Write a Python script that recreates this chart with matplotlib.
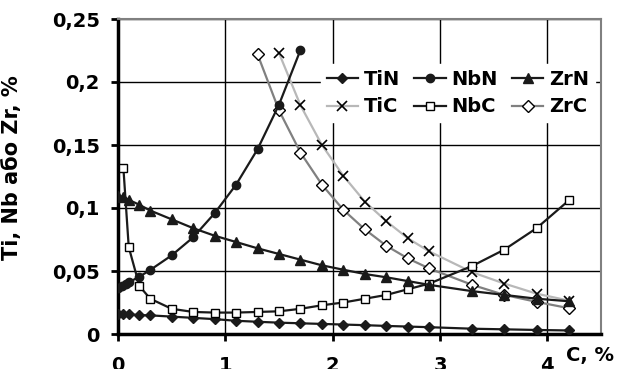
import matplotlib
matplotlib.use("Agg")
import matplotlib.pyplot as plt

# carbon content, %
c_all = [0, 0.05, 0.1, 0.2, 0.3, 0.5, 0.7, 0.9, 1.1, 1.3, 1.5, 1.7, 1.9, 2.1,
         2.3, 2.5, 2.7, 2.9, 3.3, 3.6, 3.9, 4.2]
tin = [0.016, 0.0157, 0.0155, 0.015, 0.0148, 0.0138, 0.0128, 0.0118, 0.0105,
       0.0097, 0.009, 0.0085, 0.008, 0.0075, 0.007, 0.0064, 0.0059, 0.0054,
       0.0042, 0.0037, 0.0032, 0.0028]
zrn = [0.1095, 0.109, 0.1065, 0.1025, 0.098, 0.091, 0.084, 0.078, 0.073,
       0.068, 0.0635, 0.059, 0.0545, 0.051, 0.0476, 0.045, 0.042, 0.039,
       0.034, 0.031, 0.028, 0.026]

c_nbn = [0, 0.035, 0.07, 0.1, 0.2, 0.3, 0.5, 0.7, 0.9, 1.1, 1.3, 1.5, 1.7]
nbn = [0.0365, 0.038, 0.040, 0.041, 0.0455, 0.0508, 0.0624, 0.0767, 0.0958,
       0.1185, 0.1466, 0.182, 0.2254]

c_nbc = c_all[1:]
nbc = [0.132, 0.069, 0.038, 0.028, 0.020, 0.0175, 0.017, 0.017, 0.0175,
       0.018, 0.020, 0.0228, 0.025, 0.028, 0.031, 0.0355, 0.040, 0.054,
       0.067, 0.084, 0.106]

c_tic = [1.5, 1.7, 1.9, 2.1, 2.3, 2.5, 2.7, 2.9, 3.3, 3.6, 3.9, 4.2]
tic = [0.223, 0.1815, 0.15, 0.1255, 0.105, 0.0895, 0.076, 0.0655, 0.049,
       0.040, 0.032, 0.0265]

c_zrc = [1.3, 1.5, 1.7, 1.9, 2.1, 2.3, 2.5, 2.7, 2.9, 3.3, 3.6, 3.9, 4.2]
zrc = [0.222, 0.1775, 0.144, 0.1185, 0.0985, 0.083, 0.070, 0.060, 0.052,
       0.039, 0.031, 0.0255, 0.0205]

plt.rcParams['font.family'] = 'DejaVu Sans'
plt.rcParams['font.weight'] = 'bold'

fig = plt.figure(figsize=(6.26, 3.69), dpi=100)
ax = fig.add_axes([118/626, 35/369, (601-118)/626, (334-19)/369])

lw = 1.6
ax.plot(c_all, tin, '-D', color='#1a1a1a', lw=lw, ms=5.5, label='TiN', zorder=4)
ax.plot(c_tic, tic, '-x', color='#b8b8b8', mec='black', mew=1.2, lw=lw, ms=7,
        label='TiC', zorder=3)
ax.plot(c_nbn, nbn, '-o', color='#1a1a1a', lw=lw, ms=6, label='NbN', zorder=4)
ax.plot(c_nbc, nbc, '-s', color='#1a1a1a', mfc='white', mec='black', mew=1,
        lw=lw, ms=5.5, label='NbC', zorder=4)
ax.plot(c_all, zrn, '-^', color='#1a1a1a', lw=lw, ms=6.5, label='ZrN', zorder=4)
ax.plot(c_zrc, zrc, '-D', color='#808080', mfc='white', mec='black', mew=1,
        lw=lw, ms=6, label='ZrC', zorder=3)

ax.set_xlim(0, 4.5)
ax.set_ylim(0, 0.25)
ax.set_xticks([0, 1, 2, 3, 4])
ax.set_xticklabels(['0', '1', '2', '3', '4'])
ax.set_yticks([0, 0.05, 0.1, 0.15, 0.2, 0.25])
ax.set_yticklabels(['0', '0,05', '0,1', '0,15', '0,2', '0,25'])
ax.grid(True, color='black', lw=1)
ax.set_axisbelow(True)

for s in ['top', 'right']:
    ax.spines[s].set_color('#808080')
    ax.spines[s].set_linewidth(1.5)
for s in ['left', 'bottom']:
    ax.spines[s].set_color('black')
    ax.spines[s].set_linewidth(2.5)

ax.tick_params(axis='both', direction='out', length=5, width=2, labelsize=14)
ax.tick_params(axis='x', pad=11)
ax.tick_params(axis='y', pad=8)

ax.set_ylabel('Ti, Nb або Zr, %', fontsize=15, fontweight='bold', labelpad=6)
ax.yaxis.set_label_coords(22/626, 1 - 168/369, transform=fig.transFigure)
fig.text(566/626, 1 - 355/369, 'C, %', fontsize=14, fontweight='bold',
         va='center', ha='left')

leg = ax.legend(ncol=3, loc='center', bbox_to_anchor=(458/626, 1 - 93/369),
                bbox_transform=fig.transFigure, frameon=True, fancybox=False,
                edgecolor='white', framealpha=1, fontsize=14,
                handlelength=1.6, handletextpad=0.3, columnspacing=0.75,
                labelspacing=0.45, borderpad=0.3)
leg.set_zorder(10)

fig.savefig('out.png', dpi=100)
